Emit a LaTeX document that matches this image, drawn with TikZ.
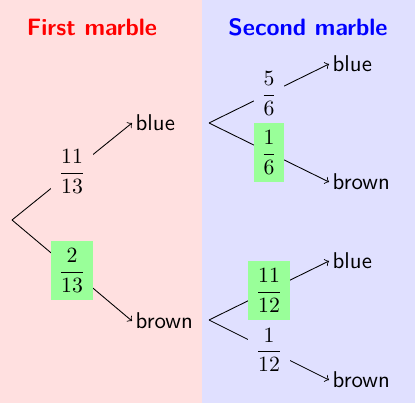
\documentclass[tikz,border=0pt]{standalone}
\usepackage{amsmath}
\begin{document}
\begin{tikzpicture}[x=0.46pt, y=0.46pt, >=to]
	\tikzset{leaf/.style={font=\sffamily\fontsize{10.5}{12}\selectfont, anchor=west, inner sep=1.5pt},
		title/.style={font=\sffamily\bfseries\fontsize{10.9}{13}\selectfont},
		pfirst/.style={fill=red!12},
		psecond/.style={fill=blue!12},
		hit/.style={fill=green!40}}
	\useasboundingbox (0,0) rectangle (415,403);
	% --- background ---
	\fill[red!12] (0,0) rectangle (202,403);
	\fill[blue!12] (202,0) rectangle (415,403);
	\node[title, red] (t1) at (92,376) {First marble};
	\node[title, blue] (t2) at (308,376) {Second marble};
	% --- first marble ---
	\coordinate (root) at (12,183);
	\node[leaf] (b1) at (132,280) {blue};
	\node[leaf] (r1) at (132,82) {brown};
	\draw[->] (root) -- node[pfirst] (p11) {$\dfrac{11}{13}$} (b1.west);
	\draw[->] (root) -- node[hit] (p2) {$\dfrac{2}{13}$} (r1.west);
	% --- second marble ---
	\coordinate (s1) at (209,280);
	\coordinate (s2) at (209,83);
	\node[leaf] (bb) at (329,339) {blue};
	\node[leaf] (br) at (329,221) {brown};
	\node[leaf] (rb) at (329,142) {blue};
	\node[leaf] (rr) at (329,23) {brown};
	\draw[->] (s1) -- node[psecond] (q5) {$\dfrac{5}{6}$} (bb.west);
	\draw[->] (s1) -- node[hit] (q1) {$\dfrac{1}{6}$} (br.west);
	\draw[->] (s2) -- node[hit] (q11) {$\dfrac{11}{12}$} (rb.west);
	\draw[->] (s2) -- node[psecond] (q12) {$\dfrac{1}{12}$} (rr.west);
\end{tikzpicture}
\end{document}
